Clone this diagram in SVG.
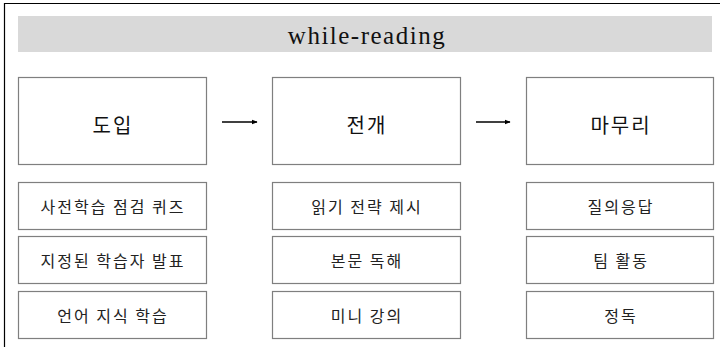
<svg xmlns="http://www.w3.org/2000/svg" width="720" height="347" viewBox="0 0 720 347">
<style>
.box{fill:#fff;stroke:#7f7f7f;stroke-width:1.2}
.hd{font-family:"Noto Sans CJK KR","Noto Sans",sans-serif;font-size:20px;letter-spacing:2px;fill:#111;text-anchor:middle;dominant-baseline:central}
.it{font-family:"Noto Sans CJK KR","Noto Sans",sans-serif;font-size:16px;letter-spacing:2px;fill:#222;text-anchor:middle;dominant-baseline:central}
.ttl{font-family:"Liberation Serif",serif;font-size:25px;letter-spacing:1.5px;fill:#111;text-anchor:middle;dominant-baseline:central}
.arr{stroke:#000;stroke-width:1.5;fill:none}
</style>
<defs>
<marker id="ah" viewBox="0 0 10 10" refX="9" refY="5" markerWidth="6" markerHeight="6" orient="auto" markerUnits="userSpaceOnUse">
<path d="M0,1 L10,5 L0,9 z" fill="#000"/>
</marker>
</defs>
<rect width="720" height="347" fill="#fff"/>
<path d="M4.5,347 V3.5 H720" fill="none" stroke="#000" stroke-width="1.2"/>
<g id="title">
<rect x="18" y="16" width="694" height="36" fill="#d9d9d9"/>
<text class="ttl" x="367" y="35">while-reading</text>
</g>
<g id="intro">
<rect class="box" x="18.5" y="77.5" width="188" height="87"/>
<text class="hd" x="113" y="124">도입</text>
</g>
<g id="develop">
<rect class="box" x="272.5" y="77.5" width="188" height="87"/>
<text class="hd" x="367" y="124">전개</text>
</g>
<g id="wrapup">
<rect class="box" x="526.5" y="77.5" width="187" height="87"/>
<text class="hd" x="621" y="124">마무리</text>
</g>
<g id="connectors">
<line class="arr" x1="222" y1="122" x2="257" y2="122" marker-end="url(#ah)"/>
<line class="arr" x1="476" y1="122" x2="510" y2="122" marker-end="url(#ah)"/>
</g>
<g id="i1"><rect class="box" x="18.5" y="182.5" width="188" height="47"/><text class="it" x="113" y="206">사전학습 점검 퀴즈</text></g>
<g id="i2"><rect class="box" x="18.5" y="236.5" width="188" height="47"/><text class="it" x="113" y="260">지정된 학습자 발표</text></g>
<g id="i3"><rect class="box" x="18.5" y="291.5" width="188" height="47"/><text class="it" x="113" y="315">언어 지식 학습</text></g>
<g id="d1"><rect class="box" x="272.5" y="182.5" width="188" height="47"/><text class="it" x="367" y="206">읽기 전략 제시</text></g>
<g id="d2"><rect class="box" x="272.5" y="236.5" width="188" height="47"/><text class="it" x="367" y="260">본문 독해</text></g>
<g id="d3"><rect class="box" x="272.5" y="291.5" width="188" height="47"/><text class="it" x="367" y="315">미니 강의</text></g>
<g id="w1"><rect class="box" x="526.5" y="182.5" width="187" height="47"/><text class="it" x="621" y="206">질의응답</text></g>
<g id="w2"><rect class="box" x="526.5" y="236.5" width="187" height="47"/><text class="it" x="621" y="260">팀 활동</text></g>
<g id="w3"><rect class="box" x="526.5" y="291.5" width="187" height="47"/><text class="it" x="621" y="315">정독</text></g>
</svg>
